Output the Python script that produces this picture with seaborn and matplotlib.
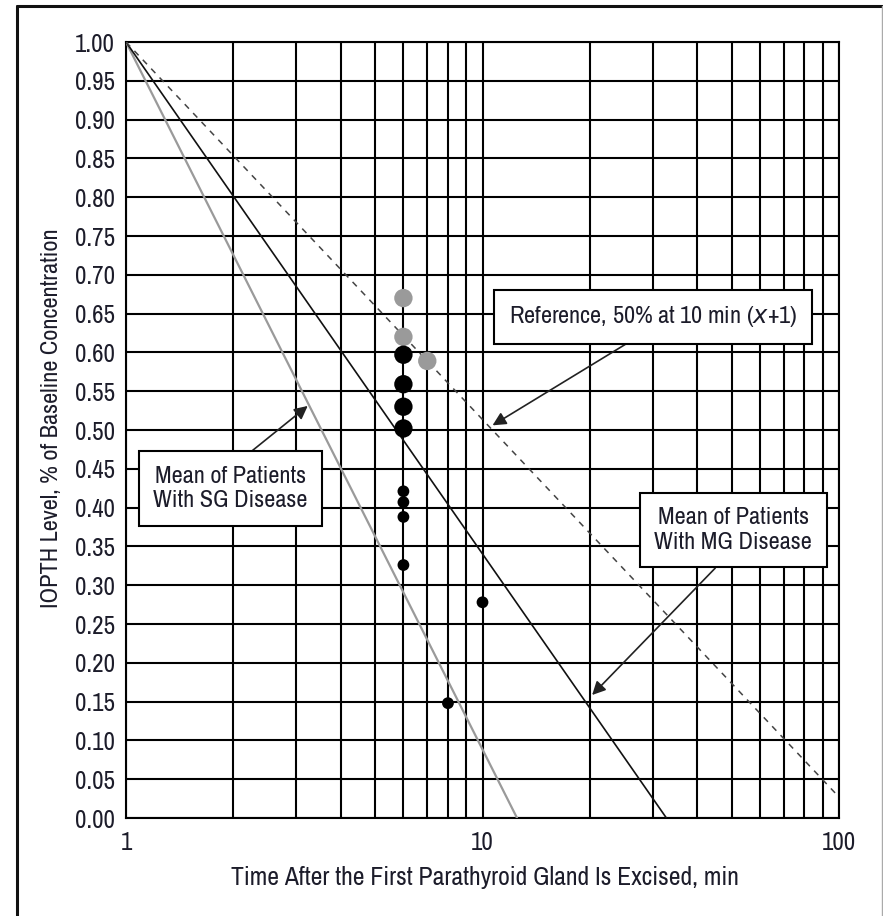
import matplotlib
matplotlib.use("Agg")
import matplotlib.pyplot as plt
import matplotlib.ticker as mticker
import matplotlib.font_manager as fm
from matplotlib.lines import Line2D
import numpy as np
import seaborn as sns

# ---- data ----
gray_x = [6, 6, 7]
gray_y = [0.670, 0.620, 0.589]
big_x = [6, 6, 6, 6]
big_y = [0.597, 0.559, 0.530, 0.502]
small_x = [6, 6, 6, 6, 10, 8]
small_y = [0.421, 0.407, 0.388, 0.326, 0.278, 0.148]

sg_x = [1, 12.5]
sg_y = [1.0, 0.0]
mg_x = [1, 32.8]
mg_y = [1.0, 0.0]
ref_x = [1, 100]
ref_y = [1.0, 0.027]

ytick_vals = [round(v, 2) for v in np.arange(0, 1.0001, 0.05)]
xtick_vals = [1, 10, 100]
xtick_labels = ["1", "10", "100"]

sns.set_style("white")

narrow = None
for f in fm.fontManager.ttflist:
    if "Narrow" in f.name and f.style == "normal":
        narrow = f.name
        break
if narrow:
    plt.rcParams["font.family"] = [narrow, "DejaVu Sans"]
else:
    plt.rcParams["font.family"] = ["DejaVu Sans"]
    plt.rcParams["font.stretch"] = "condensed"

TXT = "#1c1c2a"
fig = plt.figure(figsize=(8.83, 9.16), dpi=100)
ax = fig.add_axes([126 / 883, 1 - 818 / 916, (839 - 126) / 883, (818 - 42) / 916])

ax.set_xscale("log")
ax.set_xlim(1, 100)
ax.set_ylim(0, 1.0)

ax.xaxis.set_major_locator(mticker.FixedLocator(xtick_vals))
ax.xaxis.set_major_formatter(mticker.FixedFormatter(xtick_labels))
ax.xaxis.set_minor_locator(mticker.LogLocator(base=10, subs=np.arange(2, 10)))
ax.xaxis.set_minor_formatter(mticker.NullFormatter())
ax.set_yticks(ytick_vals)
ax.set_yticklabels([f"{v:.2f}" for v in ytick_vals])
ax.grid(True, which="both", color="black", lw=1.5, zorder=0)
ax.set_axisbelow(True)
for sp in ax.spines.values():
    sp.set_color("black")
    sp.set_linewidth(1.5)
ax.tick_params(axis="both", which="major", direction="out", length=6, width=1.5,
               color="black", labelsize=18, labelcolor=TXT, pad=2)
ax.tick_params(axis="x", which="minor", length=0)
ax.tick_params(axis="x", which="major", pad=3)

sns.lineplot(x=sg_x, y=sg_y, ax=ax, color="#9a9a9a", lw=1.6, zorder=3)
sns.lineplot(x=mg_x, y=mg_y, ax=ax, color="#111111", lw=1.2, zorder=3)
sns.lineplot(x=ref_x, y=ref_y, ax=ax, color="#444444", lw=1.1, zorder=3,
             linestyle=(0, (4, 4)))

sns.scatterplot(x=gray_x, y=gray_y, ax=ax, color="#9a9a9a", s=175, edgecolor="none", zorder=5)
sns.scatterplot(x=big_x, y=big_y, ax=ax, color="black", s=175, edgecolor="none", zorder=6)
sns.scatterplot(x=small_x, y=small_y, ax=ax, color="black", s=72, edgecolor="none", zorder=6)

ax.set_xlabel("Time After the First Parathyroid Gland Is Excised, min", fontsize=18.5, color=TXT)
ax.set_ylabel("IOPTH Level, % of Baseline Concentration", fontsize=17.5, color=TXT)
ax.xaxis.set_label_coords(0.503, -0.077)
ax.xaxis.label.set_va("center")
ax.yaxis.set_label_coords(-0.104, 0.515)
ax.yaxis.label.set_va("center")

box = dict(boxstyle="square,pad=0.6", fc="white", ec="black", lw=1.5)
def arrow(rel):
    return dict(arrowstyle="-|>", color="#222222", lw=1.2, mutation_scale=20,
                relpos=rel, shrinkA=0, shrinkB=0)

FS = 17.5
ax.annotate("Reference, 50% at 10 min ($\\it{x}$+1)", xy=(10.67, 0.506), xytext=(30.1, 0.646),
            ha="center", va="center", fontsize=FS, color=TXT, bbox=box,
            arrowprops=arrow((0.49, 0.0)), zorder=7)
ax.annotate("Mean of Patients\nWith SG Disease", xy=(3.234, 0.531), xytext=(1.963, 0.4246),
            ha="center", va="center", multialignment="center", fontsize=FS,
            color=TXT, bbox=box, arrowprops=arrow((0.52, 1.0)), zorder=7)
ax.annotate("Mean of Patients\nWith MG Disease", xy=(20.3, 0.1585), xytext=(50.5, 0.371),
            ha="center", va="center", multialignment="center", fontsize=FS,
            color=TXT, bbox=box, arrowprops=arrow((0.48, 0.0)), zorder=7)

L, T, R = 17 / 883, 1 - 6 / 916, 882 / 883
fig.add_artist(Line2D([L, L], [-0.1, T], transform=fig.transFigure, color="#111111", lw=2.2))
fig.add_artist(Line2D([L, R], [T, T], transform=fig.transFigure, color="#111111", lw=2.2))
fig.add_artist(Line2D([R, R], [-0.1, T], transform=fig.transFigure, color="#aaaaaa", lw=1.0))

fig.savefig("out.png", dpi=100)
